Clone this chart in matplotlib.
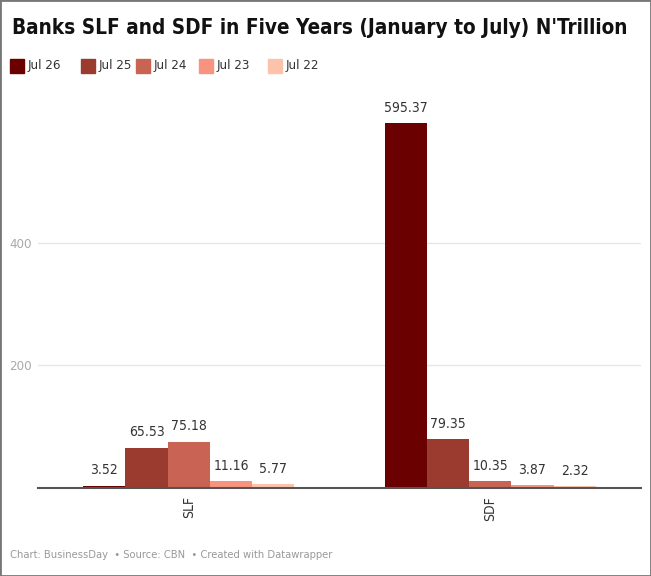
import matplotlib.pyplot as plt
import numpy as np
from matplotlib.patches import Rectangle

categories = ['SLF', 'SDF']
series = ['Jul 26', 'Jul 25', 'Jul 24', 'Jul 23', 'Jul 22']
values = {
    'Jul 26': [3.52, 595.37],
    'Jul 25': [65.53, 79.35],
    'Jul 24': [75.18, 10.35],
    'Jul 23': [11.16, 3.87],
    'Jul 22': [5.77, 2.32],
}
colors = ['#6a0000', '#9b3a2f', '#c96454', '#f7937f', '#fcc3aa']

plt.rcParams['font.family'] = ['DejaVu Sans']
plt.rcParams['font.stretch'] = 'condensed'

fig = plt.figure(figsize=(6.51, 5.76), dpi=100)
ax = fig.add_axes([38 / 651, 1 - 487.7 / 576, 603 / 651, 386 / 576])

x = np.arange(len(categories))
width = 0.7 / len(series)
for i, name in enumerate(series):
    pos = x - 0.35 + width * (i + 0.5)
    bars = ax.bar(pos, values[name], width, color=colors[i], label=name, zorder=3)
    for b, v in zip(bars, values[name]):
        ax.annotate(f'{v:.2f}', (b.get_x() + b.get_width() / 2, v),
                    xytext=(0, 6), textcoords='offset points',
                    ha='center', va='bottom', fontsize=10, color='#333333')

ax.set_xlim(-0.5, 1.5)
ax.set_ylim(0, 630)
ax.set_yticks([200, 400])
ax.set_yticklabels(['200', '400'], color='#aaaaaa', fontsize=9.5)
ax.tick_params(axis='y', length=0, pad=4.5)
ax.grid(axis='y', color='#e6e6e6', linewidth=1, zorder=0)
ax.set_xticks(x)
ax.set_xticklabels(categories, rotation=90, fontsize=10, color='#333333')
ax.tick_params(axis='x', length=0, pad=6)
for s in ['top', 'right', 'left']:
    ax.spines[s].set_visible(False)
ax.spines['bottom'].set_color('#555555')
ax.spines['bottom'].set_linewidth(1.5)
ax.spines['bottom'].set_zorder(4)

title = fig.text(12 / 651, 1 - 28 / 576,
                 "Banks SLF and SDF in Five Years (January to July) N'Trillion",
                 fontsize=18, fontweight='bold', va='center', ha='left', color='#111111')
# squeeze the title to the width it has in the picture
fig.canvas.draw()
w = title.get_window_extent().width
if w > 616:
    title.set_fontsize(18 * 616 / w)

lx = [10, 81, 136, 199, 268]
for i, name in enumerate(series):
    fig.patches.append(Rectangle((lx[i] / 651, 1 - 73 / 576), 14 / 651, 14 / 576,
                                 transform=fig.transFigure, color=colors[i]))
    fig.text((lx[i] + 18) / 651, 1 - 66 / 576, name, fontsize=9.5, va='center',
             ha='left', color='#333333')

fig.text(10 / 651, 1 - 555 / 576,
         'Chart: BusinessDay  \u2022 Source: CBN  \u2022 Created with Datawrapper',
         fontsize=8, color='#999999', va='center', ha='left')

# frame round the picture
fig.patches.append(Rectangle((0, 0), 1, 1, transform=fig.transFigure, fill=False,
                             edgecolor='#777777', linewidth=2))

fig.savefig('out.png', dpi=100)
